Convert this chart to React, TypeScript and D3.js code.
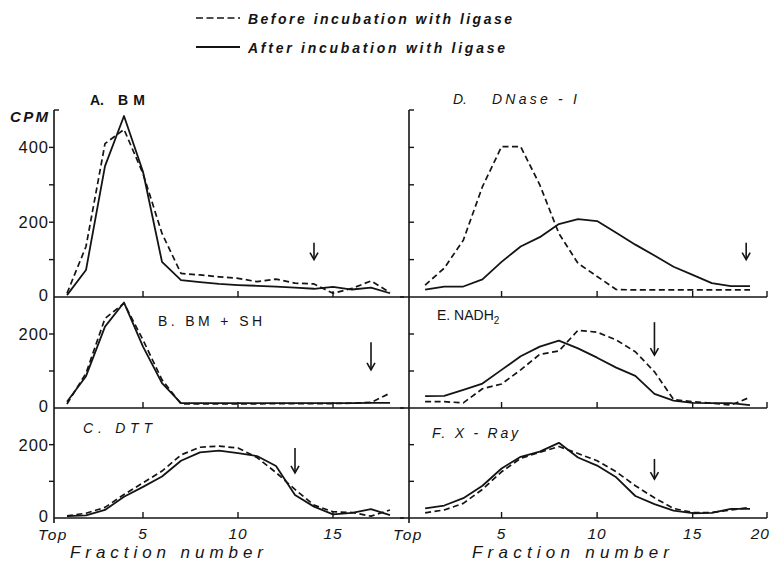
import React from "react";
import * as d3 from "d3";

// fraction numbers (top of gradient = 1)
const fractions = [1, 2, 3, 4, 5, 6, 7, 8, 9, 10, 11, 12, 13, 14, 15, 16, 17, 18];

// CPM, dashed = before ligase, solid = after ligase
const beforeA = [10, 135, 410, 448, 330, 170, 63, 59, 54, 50, 41, 48, 37, 35, 10, 23, 43, 12];
const afterA = [5, 72, 350, 484, 335, 94, 45, 40, 35, 32, 30, 28, 25, 22, 27, 20, 25, 10];

const beforeB = [11, 94, 242, 283, 184, 76, 11, 11, 11, 11, 11, 12, 12, 12, 12, 13, 15, 40];
const afterB = [17, 86, 220, 285, 166, 67, 13, 13, 13, 13, 13, 13, 13, 13, 13, 13, 14, 14];

const beforeC = [6, 13, 29, 64, 96, 128, 172, 193, 196, 191, 165, 124, 78, 35, 17, 15, 5, 22];
const afterC = [5, 7, 22, 58, 85, 113, 156, 179, 184, 177, 169, 142, 63, 31, 10, 14, 24, 8];

const beforeD = [32, 77, 152, 295, 402, 402, 300, 170, 90, 55, 20, 19, 19, 19, 19, 19, 19, 19];
const afterD = [20, 28, 28, 47, 94, 135, 160, 195, 208, 203, 172, 140, 111, 81, 59, 37, 29, 29];

const beforeE = [17, 17, 14, 52, 65, 103, 145, 154, 210, 205, 184, 152, 98, 23, 17, 13, 8, 29];
const afterE = [32, 33, 49, 66, 103, 140, 166, 182, 161, 136, 109, 87, 38, 20, 14, 13, 13, 8];

const beforeF = [14, 22, 40, 78, 126, 163, 179, 195, 176, 156, 126, 88, 55, 26, 15, 15, 22, 29];
const afterF = [26, 34, 54, 88, 135, 167, 181, 205, 165, 143, 111, 60, 38, 20, 13, 14, 25, 25];

const leftTicks = [5, 10, 15];
const rightTicks = [5, 10, 15, 20];

const W = 773;
const H = 567;
const ink = "#141414";
const font = "'Liberation Sans', Arial, sans-serif";

const cols = {
  left: {
    x: d3.scaleLinear().domain([0, 20]).range([48, 428]),
    axisX: 54,
    x0: 54,
    x1: 404,
    ticks: leftTicks,
    tickDir: -1,
  },
  right: {
    // hand drawn axis, last section is squeezed
    x: d3.scaleLinear().domain([0, 18, 20]).range([406, 750, 767]),
    axisX: 409,
    x0: 400,
    x1: 767,
    ticks: rightTicks,
    tickDir: 1,
  },
};

const rows = [
  { top: 110, base: 297, max: 500, ticks: [100, 200, 300, 400, 500], labels: [0, 200, 400] },
  { top: 297, base: 408, max: 300, ticks: [100, 200], labels: [0, 200] },
  { top: 408, base: 518, max: 300, ticks: [100, 200], labels: [0, 200] },
];

const panels = [
  { col: "left", row: 0, before: beforeA, after: afterA, arrow: [14, 145, 100] },
  { col: "right", row: 0, before: beforeD, after: afterD, arrow: [17.8, 145, 100] },
  { col: "left", row: 1, before: beforeB, after: afterB, arrow: [17, 178, 103] },
  { col: "right", row: 1, before: beforeE, after: afterE, arrow: [13, 232, 143] },
  { col: "left", row: 2, before: beforeC, after: afterC, arrow: [13, 191, 123] },
  { col: "right", row: 2, before: beforeF, after: afterF, arrow: [13, 161, 106] },
];

export default function App() {
  return (
    <div style={{ position: "absolute", left: 0, top: 0 }}>
      <svg width={W} height={H} style={{ display: "block", background: "#fff" }} fontFamily={font}>
        {/* legend */}
        <line x1={196} x2={240} y1={18} y2={18} stroke={ink} strokeWidth={1.6} strokeDasharray="7,3.5" />
        <line x1={196} x2={240} y1={47} y2={47} stroke={ink} strokeWidth={1.8} />
        <text x={248} y={24} fontSize={14} fontWeight="bold" fontStyle="italic" fill={ink}
          textLength={264} lengthAdjust="spacing">Before incubation with ligase</text>
        <text x={248} y={53} fontSize={14} fontWeight="bold" fontStyle="italic" fill={ink}
          textLength={257} lengthAdjust="spacing">After incubation with ligase</text>

        {/* column axes */}
        {Object.entries(cols).map(([k, c]) => (
          <line key={k} x1={c.axisX} x2={c.axisX} y1={rows[0].top} y2={rows[2].base + 5} stroke={ink} strokeWidth={1.6} />
        ))}

        {panels.map((p, i) => {
          const c = cols[p.col];
          const r = rows[p.row];
          const x = c.x;
          const y = d3.scaleLinear().domain([0, r.max]).range([r.base, r.top]);
          const line = d3
            .line<number>()
            .x((_, j) => x(fractions[j]))
            .y((d) => y(d));
          const [af, aTop, aTip] = p.arrow;
          const ax = x(af);
          return (
            <g key={i}>
              <line x1={c.x0} x2={c.x1} y1={r.base} y2={r.base} stroke={ink} strokeWidth={1.6} />
              {c.ticks.map((t) => (
                <line key={t} x1={x(t)} x2={x(t)} y1={r.base} y2={r.base - 6} stroke={ink} strokeWidth={1.4} />
              ))}
              {r.ticks.map((t) => {
                const dir = t === 500 ? 1 : c.tickDir;
                return (
                  <line key={t} x1={c.axisX} x2={c.axisX + dir * 5} y1={y(t)} y2={y(t)} stroke={ink} strokeWidth={1.4} />
                );
              })}
              {p.col === "left" &&
                r.labels.map((t) => (
                  <text key={t} x={49} y={y(t) + (t === 0 ? 4 : 6)} fontSize={16.5} textAnchor="end" fill={ink} letterSpacing={1}>
                    {t}
                  </text>
                ))}
              <path d={line(p.before) || ""} fill="none" stroke={ink} strokeWidth={1.7} strokeDasharray="6,3.5" strokeLinejoin="round" />
              <path d={line(p.after) || ""} fill="none" stroke={ink} strokeWidth={1.8} strokeLinejoin="round" />
              <line x1={ax} x2={ax} y1={y(aTop)} y2={y(aTip)} stroke={ink} strokeWidth={1.6} />
              <path d={`M${ax - 4},${y(aTip) - 7}L${ax},${y(aTip)}L${ax + 4},${y(aTip) - 7}`} fill="none" stroke={ink} strokeWidth={1.6} />
            </g>
          );
        })}

        {/* y axis title */}
        <text x={10} y={122} fontSize={15} fontWeight="bold" fontStyle="italic" fill={ink} textLength={38} lengthAdjust="spacing">CPM</text>

        {/* panel labels */}
        <text x={90} y={105} fontSize={14} fontWeight="bold" fill={ink}>A.</text>
        <text x={118} y={105} fontSize={14} fontWeight="bold" fill={ink} textLength={27} lengthAdjust="spacing">BM</text>
        <text x={453} y={104} fontSize={14} fontStyle="italic" fill={ink}>D.</text>
        <text x={492} y={104} fontSize={14} fontStyle="italic" fill={ink} textLength={85} lengthAdjust="spacing">DNase - I</text>
        <text x={158} y={326} fontSize={14} fill={ink} textLength={104} lengthAdjust="spacing">B.  BM + SH</text>
        <text x={437} y={320} fontSize={14} fill={ink}>
          E. NADH<tspan dy={4} fontSize={10}>2</tspan>
        </text>
        <text x={83} y={433} fontSize={14} fontStyle="italic" fill={ink} textLength={69} lengthAdjust="spacing">C.  DTT</text>
        <text x={432} y={438} fontSize={14} fontStyle="italic" fill={ink} textLength={86} lengthAdjust="spacing">F. X - Ray</text>

        {/* bottom tick labels */}
        {Object.entries(cols).map(([k, c]) => (
          <g key={k} fontSize={15.5} fontStyle="italic" fill={ink}>
            <text x={c.axisX - 1} y={540} textAnchor="middle" letterSpacing={1.5}>Top</text>
            {c.ticks.map((t) => (
              <text key={t} x={t === 20 ? c.x(t) + 3 : c.x(t)} y={539} textAnchor={t === 20 ? "end" : "middle"} letterSpacing={1}>
                {t}
              </text>
            ))}
          </g>
        ))}
        <text x={70} y={558} fontSize={17} fontStyle="italic" fill={ink} textLength={193} lengthAdjust="spacing">Fraction number</text>
        <text x={472} y={558} fontSize={17} fontStyle="italic" fill={ink} textLength={197} lengthAdjust="spacing">Fraction number</text>
      </svg>
    </div>
  );
}
